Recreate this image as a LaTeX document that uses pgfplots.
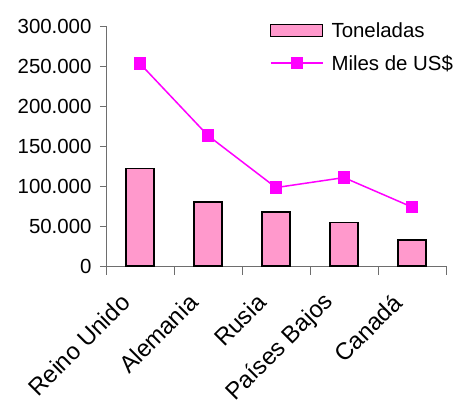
\documentclass[border=0pt]{standalone}
\usepackage{fontspec}
\setmainfont{Liberation Sans}
\usepackage{pgfplots}
\pgfplotsset{compat=1.18}
\definecolor{barpink}{HTML}{FF99CC}
\definecolor{linemag}{HTML}{FF00FF}
\definecolor{axgray}{HTML}{6E6E6E}
\begin{document}
\begin{tikzpicture}
\begin{axis}[
  name=ax,
  scale only axis, width=340bp, height=240bp,
  xmin=-0.5, xmax=4.5, ymin=0, ymax=300000,
  axis lines=left, axis line style={-, draw=axgray, line width=0.8bp},
  tick style={draw=axgray, line width=0.8bp},
  tick align=outside,
  major tick length=6bp, minor tick length=9bp,
  ytick={0,50000,100000,150000,200000,250000,300000},
  scaled y ticks=false,
  yticklabel style={/pgf/number format/fixed, /pgf/number format/1000 sep={.}, /pgf/number format/assume math mode=true, xshift=-5bp, font=\fontsize{20.5}{24}\selectfont},
  xtick={0,1,2,3,4},
  xticklabels={Reino Unido, Alemania, Rusia, Países Bajos, Canadá},
  x tick label style={xshift=-12bp, yshift=-24bp, rotate=45, anchor=east, font=\fontsize{24}{28}\selectfont},
  major x tick style={draw=none},
  minor xtick={-0.5,0.5,1.5,2.5,3.5,4.5},
  legend style={draw=none, fill=none, at={(0.482,1.019)}, anchor=north west,
    font=\fontsize{20.5}{24}\selectfont, row sep=14bp, column sep=7bp, inner sep=0pt,
    nodes={inner sep=1bp}, cells={anchor=west}},
  clip=false,
]
\addplot[ybar, bar width=0.41, fill=barpink, draw=black, line width=1.3bp,
  legend image code/.code={\draw[fill=barpink, draw=black, line width=1.3bp] (0bp,-6bp) rectangle (52bp,6bp);}]
  coordinates {(0,122000) (1,80000) (2,67500) (3,54500) (4,32500)};
\addlegendentry{Toneladas}
\addplot[linemag, line width=1.5bp, mark=square*, mark size=5.5bp, mark options={fill=linemag, draw=linemag},
  legend image code/.code={\draw[linemag, line width=1.5bp] (0bp,0bp) -- (52bp,0bp); \fill[linemag] (20.5bp,-5.5bp) rectangle (31.5bp,5.5bp);}]
  coordinates {(0,253000) (1,163000) (2,98000) (3,110500) (4,73700)};
\addlegendentry{Miles de US\$}
\end{axis}
\path ([xshift=-106bp, yshift=-140bp]ax.south west) rectangle ([xshift=8bp, yshift=26bp]ax.north east);
\end{tikzpicture}
\end{document}
